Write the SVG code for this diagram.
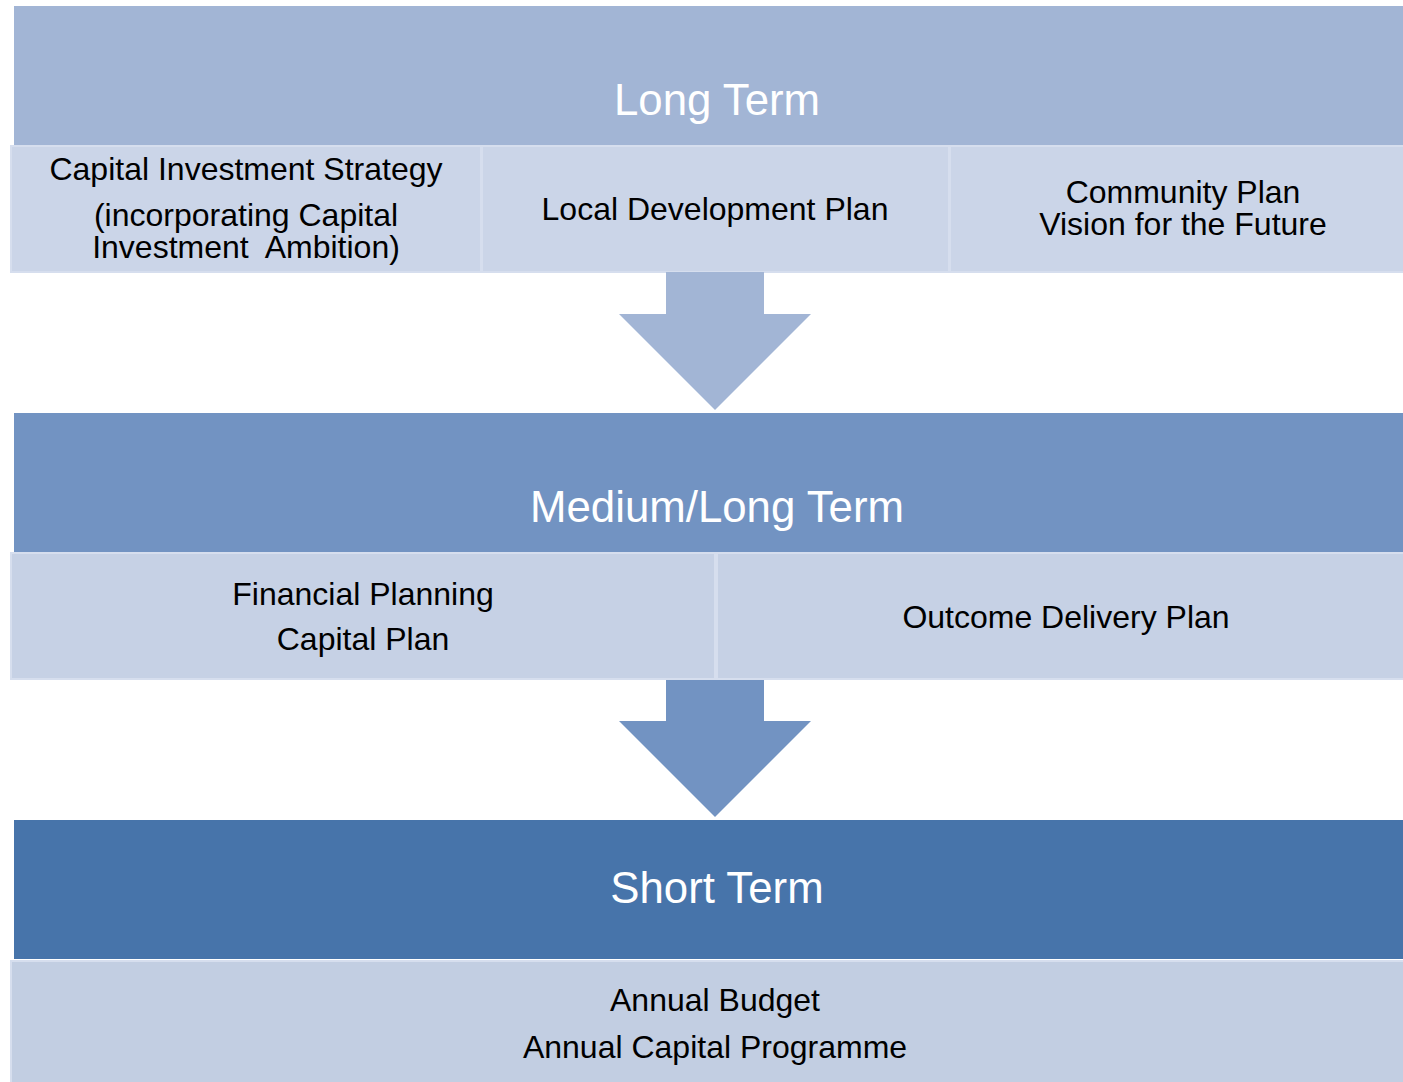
<svg xmlns="http://www.w3.org/2000/svg" width="1403" height="1082" viewBox="0 0 1403 1082">
<style>
.sub{font-family:"Liberation Sans",Arial,sans-serif;font-size:32px;fill:#000;text-anchor:middle}
.head{font-family:"Liberation Sans",Arial,sans-serif;font-size:43.8px;fill:#fff;text-anchor:middle}
.box{stroke:#D6DEEE;stroke-width:2}
</style>
<rect width="1403" height="1082" fill="#fff"/>
<g id="long-term">
<rect x="14" y="6" width="1389" height="139" fill="#A2B5D5"/>
<text class="head" x="717" y="115">Long Term</text>
</g>
<g id="capital-investment-strategy">
<rect class="box" x="11" y="146" width="470" height="126" fill="#CBD5E8"/>
<text class="sub" x="246" y="180">Capital Investment Strategy</text>
<text class="sub" x="246" y="226">(incorporating Capital</text>
<text class="sub" x="246" y="258" xml:space="preserve">Investment  Ambition)</text>
</g>
<g id="local-development-plan">
<rect class="box" x="482" y="146" width="467" height="126" fill="#CBD5E8"/>
<text class="sub" x="715" y="220">Local Development Plan</text>
</g>
<g id="community-plan">
<rect class="box" x="950" y="146" width="454" height="126" fill="#CBD5E8"/>
<text class="sub" x="1183" y="203">Community Plan</text>
<text class="sub" x="1183" y="235">Vision for the Future</text>
</g>
<g id="connectors">
<polygon points="666,272 764,272 764,314 811,314 715,410 619,314 666,314" fill="#A2B5D5"/>
<polygon points="666,680 764,680 764,721 811,721 715,817 619,721 666,721" fill="#7293C2"/>
</g>
<g id="medium-long-term">
<rect x="14" y="413" width="1389" height="139" fill="#7293C2"/>
<text class="head" x="717" y="522">Medium/Long Term</text>
</g>
<g id="financial-planning">
<rect class="box" x="11" y="553" width="704" height="126" fill="#C6D1E5"/>
<text class="sub" x="363" y="605">Financial Planning</text>
<text class="sub" x="363" y="650">Capital Plan</text>
</g>
<g id="outcome-delivery-plan">
<rect class="box" x="717" y="553" width="687" height="126" fill="#C6D1E5"/>
<text class="sub" x="1066" y="628">Outcome Delivery Plan</text>
</g>
<g id="short-term">
<rect x="14" y="820" width="1389" height="139" fill="#4774AA"/>
<text class="head" x="717" y="903">Short Term</text>
</g>
<g id="annual-budget">
<rect class="box" x="11" y="961" width="1393" height="122" fill="#C2CEE2"/>
<text class="sub" x="715" y="1011">Annual Budget</text>
<text class="sub" x="715" y="1058">Annual Capital Programme</text>
</g>
</svg>
